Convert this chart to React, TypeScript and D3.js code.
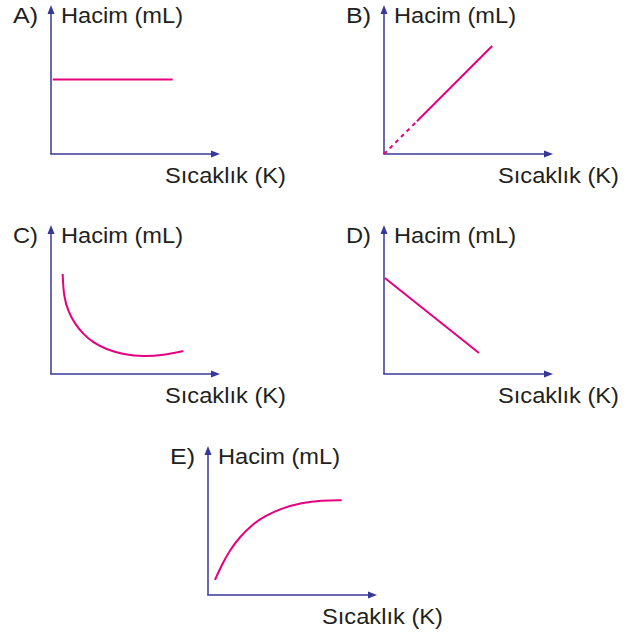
import * as d3 from "d3";
import React, { useEffect, useRef } from "react";

// volume vs temperature sketches, values on a 0-100 scale for both axes
const panelLabels = ["A)", "B)", "C)", "D)", "E)"];
const yTitle = "Hacim (mL)";
const xTitle = "Sıcaklık (K)";

const tempA = [1, 72];
const volA = [50, 50];

const tempBDash = [0, 19.5];
const volBDash = [0, 22];
const tempB = [19.5, 64];
const volB = [22, 72.5];

const tempC = [6.9, 7.5, 10.2, 14.2, 19.1, 25, 33, 42.8, 54.6, 66.5, 78.3];
const volC = [67.1, 52, 42, 33.5, 26.8, 21, 16.4, 13.2, 11.6, 12.6, 15.4];

const tempD = [0.5, 56.2];
const volD = [64.4, 14.1];

const tempE = [4.1, 8.1, 13, 18.9, 25.9, 33.7, 43.6, 55.4, 67.3, 79.1];
const volE = [10.1, 20.1, 30.2, 39.1, 47, 53, 58.2, 61.9, 63.6, 63.6];

export default function App() {
  const svgRef = useRef(null);
  const svgWidth = 635;
  const svgHeight = 632;

  const axisColor = "#38379a";
  const curveColor = "#e6007e";
  const textColor = "#231f20";

  // where each little chart sits (y axis x, x axis y)
  const origins = [
    { x: 51, y: 154 },
    { x: 384, y: 154 },
    { x: 51, y: 374 },
    { x: 384, y: 374 },
    { x: 208, y: 595 },
  ];
  const axisW = 169;
  const axisH = 149;

  const series = [
    [{ t: tempA, v: volA, dash: false, smooth: false }],
    [
      { t: tempBDash, v: volBDash, dash: true, smooth: false },
      { t: tempB, v: volB, dash: false, smooth: false },
    ],
    [{ t: tempC, v: volC, dash: false, smooth: true }],
    [{ t: tempD, v: volD, dash: false, smooth: false }],
    [{ t: tempE, v: volE, dash: false, smooth: true }],
  ];

  useEffect(() => {
    const svgEl = d3.select(svgRef.current);
    svgEl.selectAll("*").remove();

    origins.forEach((o, i) => {
      const xScale = d3.scaleLinear().domain([0, 100]).range([o.x, o.x + axisW]);
      const yScale = d3.scaleLinear().domain([0, 100]).range([o.y, o.y - axisH]);
      const g = svgEl.append("g");

      const top = o.y - axisH;
      const right = o.x + axisW;

      // axes
      g.append("line")
        .attr("x1", o.x)
        .attr("y1", o.y)
        .attr("x2", o.x)
        .attr("y2", top + 6)
        .attr("stroke", axisColor)
        .attr("stroke-width", 1.5);
      g.append("line")
        .attr("x1", o.x - 0.75)
        .attr("y1", o.y)
        .attr("x2", right - 6)
        .attr("y2", o.y)
        .attr("stroke", axisColor)
        .attr("stroke-width", 1.5);
      // arrow heads
      g.append("path")
        .attr("d", `M${o.x},${top} L${o.x - 3.5},${top + 9} L${o.x + 3.5},${top + 9} Z`)
        .attr("fill", axisColor);
      g.append("path")
        .attr("d", `M${right},${o.y} L${right - 9},${o.y - 3.5} L${right - 9},${o.y + 3.5} Z`)
        .attr("fill", axisColor);

      // curves
      series[i].forEach((s) => {
        const pts = s.t.map((t, k) => [t, s.v[k]]);
        const line = d3
          .line()
          .x((d) => xScale(d[0]))
          .y((d) => yScale(d[1]))
          .curve(s.smooth ? d3.curveBasis : d3.curveLinear);
        g.append("path")
          .datum(pts)
          .attr("fill", "none")
          .attr("stroke", curveColor)
          .attr("stroke-width", 2)
          .attr("stroke-dasharray", s.dash ? "4,4" : null)
          .attr("d", line);
      });

      // texts
      const font = "'Liberation Sans', Arial, sans-serif";
      g.append("text")
        .attr("x", o.x - 38)
        .attr("y", top + 18)
        .attr("font-family", font)
        .attr("font-size", 22)
        .attr("fill", textColor)
        .attr("textLength", 25)
        .attr("lengthAdjust", "spacingAndGlyphs")
        .text(panelLabels[i]);
      g.append("text")
        .attr("x", o.x + 10)
        .attr("y", top + 18)
        .attr("font-family", font)
        .attr("font-size", 22)
        .attr("fill", textColor)
        .attr("textLength", 122)
        .attr("lengthAdjust", "spacingAndGlyphs")
        .text(yTitle);
      g.append("text")
        .attr("x", o.x + 114)
        .attr("y", o.y + 29)
        .attr("font-family", font)
        .attr("font-size", 22)
        .attr("fill", textColor)
        .attr("textLength", 121)
        .attr("lengthAdjust", "spacingAndGlyphs")
        .text(xTitle);
    });
  });

  return (
    <svg
      ref={svgRef}
      width={svgWidth}
      height={svgHeight}
      style={{ position: "absolute", left: 0, top: 0, background: "#fff" }}
    ></svg>
  );
}
